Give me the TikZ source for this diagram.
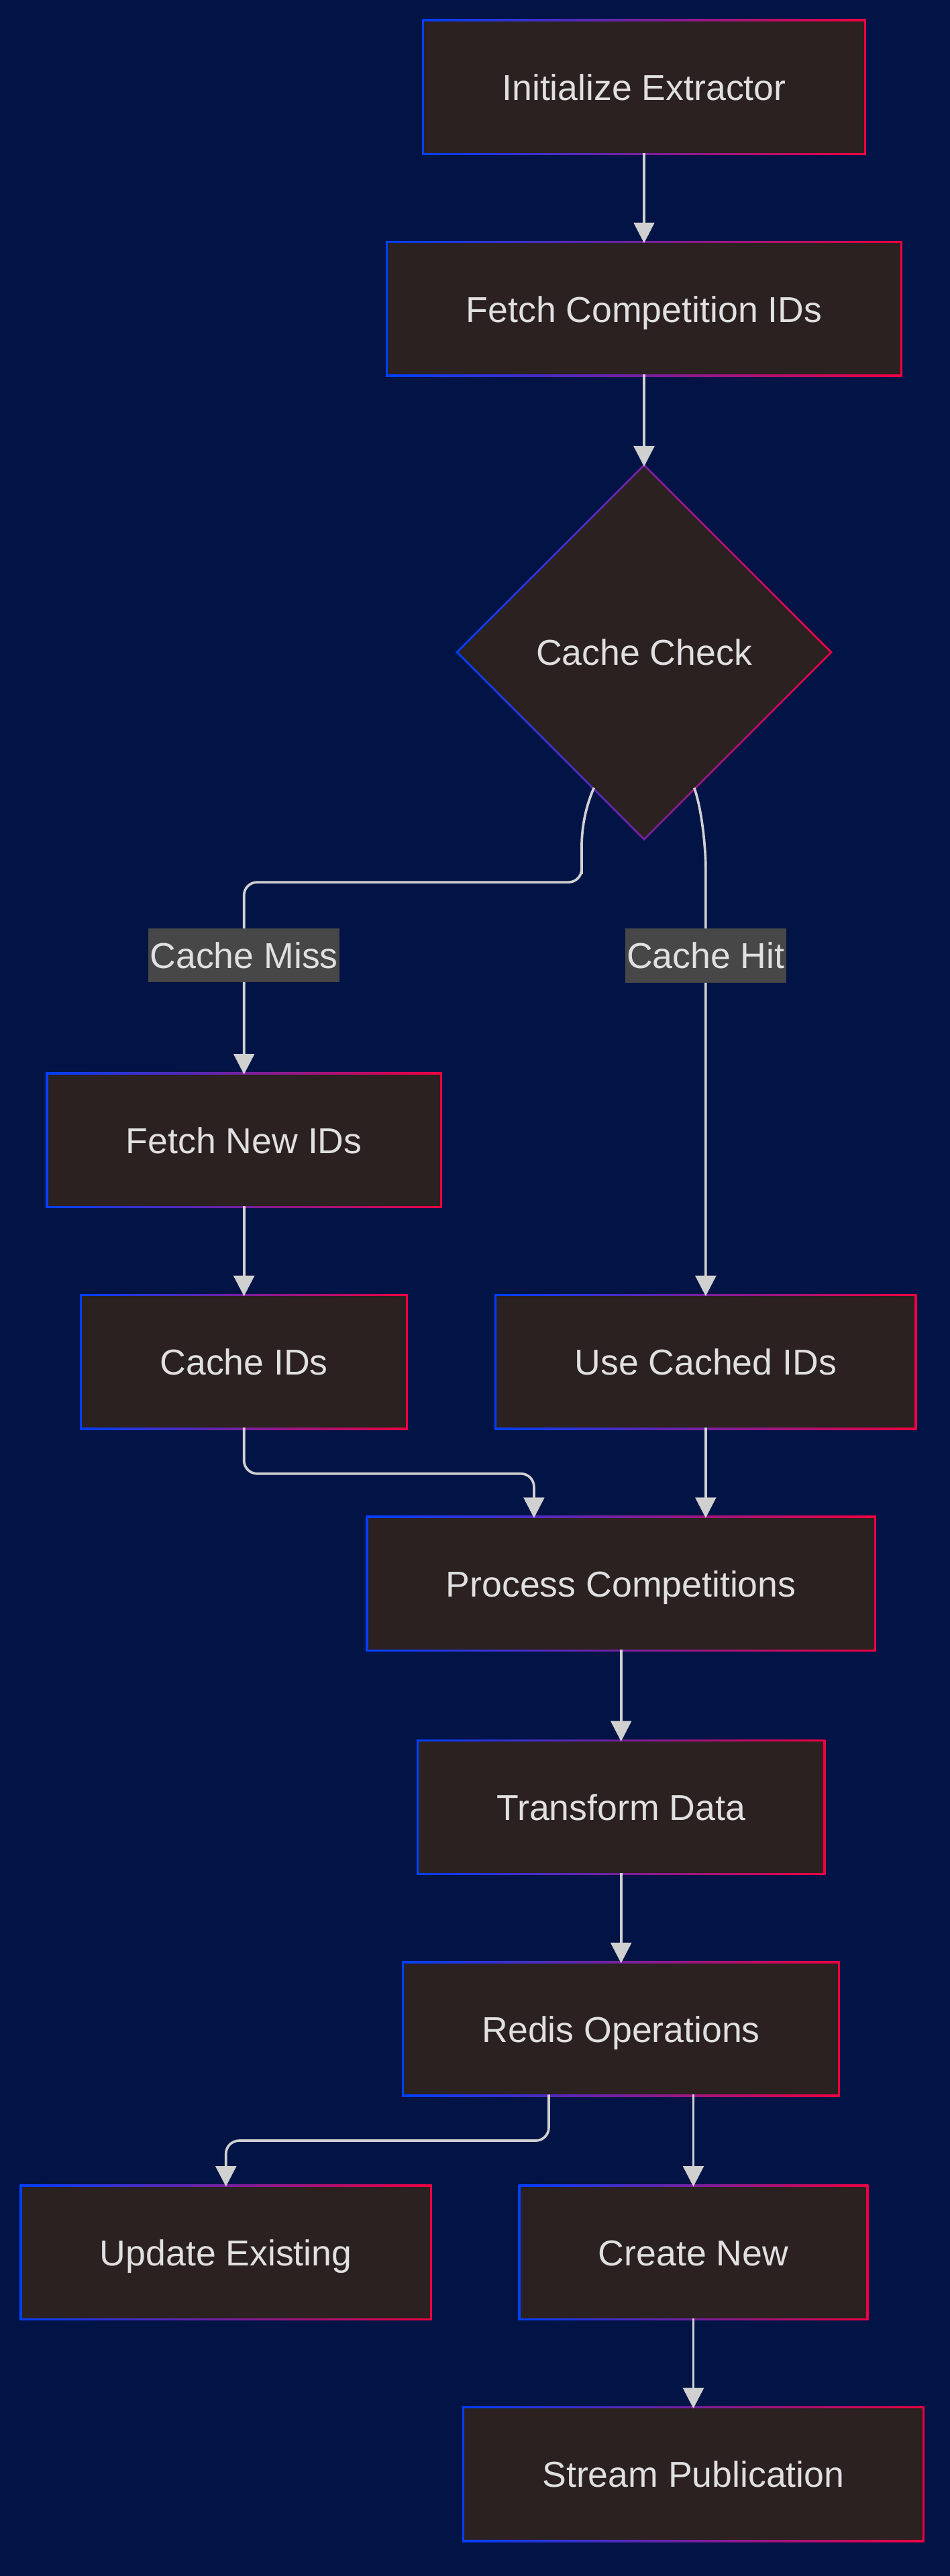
\documentclass[tikz,border=0pt]{standalone}
\usepackage{fontspec}
\setmainfont{Liberation Sans}
\usepackage{xcolor}
\usepackage{tikz}
\usetikzlibrary{shapes.geometric, arrows.meta, positioning, calc, backgrounds}
\definecolor{flowbg}{RGB}{1, 20, 69}
\definecolor{flowbox}{RGB}{43, 33, 32}
\definecolor{flowblue}{RGB}{0, 64, 255}
\definecolor{flowred}{RGB}{240, 0, 64}
\definecolor{flowtext}{RGB}{224, 224, 224}
\definecolor{flowline}{RGB}{208, 208, 208}
\definecolor{flowlabel}{RGB}{71, 71, 71}
\newcommand{\flowfont}{\fontsize{21.9}{26}\selectfont}
\tikzset{
    stepbox/.style={rectangle, fill=flowbox, text=flowtext, inner xsep=47.5pt, inner ysep=0pt, minimum height=80pt, text height=18pt, text depth=2pt, outer sep=0pt, font=\flowfont},
    decision/.style={diamond, fill=flowbox, text=flowtext, minimum width=226pt, minimum height=226pt, inner sep=0pt, text height=18pt, text depth=2pt, outer sep=0pt, font=\flowfont},
    edgelabel/.style={rectangle, sharp corners, fill=flowlabel, text=flowtext, inner xsep=1pt, inner ysep=0pt, minimum height=33pt, text height=18pt, text depth=2pt, font=\flowfont},
    flow/.style={flowline, line width=1.5pt, -{Triangle[length=12.5pt, width=12.5pt]}, rounded corners=8pt},
    rim/.style={left color=flowblue, right color=flowred}
}

\begin{document}
\begin{tikzpicture}[x=1pt, y=-1pt]
    % Steps
    \node[stepbox] (init) at (392, 53) {Initialize Extractor};
    \node[stepbox] (fetchids) at (392, 188) {Fetch Competition IDs};
    \node[decision] (check) at (392, 397) {Cache Check};
    \node[stepbox] (fetchnew) at (148.5, 694) {Fetch New IDs};
    \node[stepbox] (cacheids) at (148.5, 829) {Cache IDs};
    \node[stepbox] (usecached) at (429.5, 829) {Use Cached IDs};
    \node[stepbox] (process) at (378, 964) {Process Competitions};
    \node[stepbox] (transform) at (378, 1100) {Transform Data};
    \node[stepbox] (redis) at (378, 1235) {Redis Operations};
    \node[stepbox] (update) at (137.5, 1371) {Update Existing};
    \node[stepbox] (create) at (422, 1371) {Create New};
    \node[stepbox] (stream) at (422, 1506) {Stream Publication};

    % Gradient rims and page
    \begin{scope}[on background layer]
        \fill[flowbg] (0, 0) rectangle (578, 1568);
        \foreach \n in {init, fetchids, fetchnew, cacheids, usecached, process, transform, redis, update, create, stream}
            \shade[rim] ([shift={(-1.2, 1.2)}]\n.south west) rectangle ([shift={(1.2, -1.2)}]\n.north east);
        \shade[rim] ([yshift=1.7pt]check.north) -- ([xshift=1.7pt]check.east) -- ([yshift=-1.7pt]check.south) -- ([xshift=-1.7pt]check.west) -- cycle;
    \end{scope}

    % Connectors
    \draw[flow] (init) -- (fetchids);
    \draw[flow] (fetchids) -- (check);
    \draw[flow] ($(check.south)!0.27!(check.west)$) .. controls +(-7, 16) and +(0, -14) .. (354, 524) -- (354, 537) -| node[edgelabel, pos=0.69] {Cache Miss} (fetchnew.north);
    \draw[flow] ($(check.south)!0.27!(check.east)$) .. controls +(5, 14) and +(0, -18) .. (429.5, 536) -- node[edgelabel, pos=0.18] {Cache Hit} (usecached.north);
    \draw[flow] (fetchnew) -- (cacheids);
    \draw[flow] (cacheids.south) -- ++(0, 28) -| ([xshift=-53pt]process.north);
    \draw[flow] (usecached.south) -- (usecached.south |- process.north);
    \draw[flow] (process) -- (transform);
    \draw[flow] (transform) -- (redis);
    \draw[flow] ([xshift=-44pt]redis.south) -- ++(0, 28) -| (update.north);
    \draw[flow] ([xshift=44pt]redis.south) -- (create.north);
    \draw[flow] (create) -- (stream);
\end{tikzpicture}
\end{document}
